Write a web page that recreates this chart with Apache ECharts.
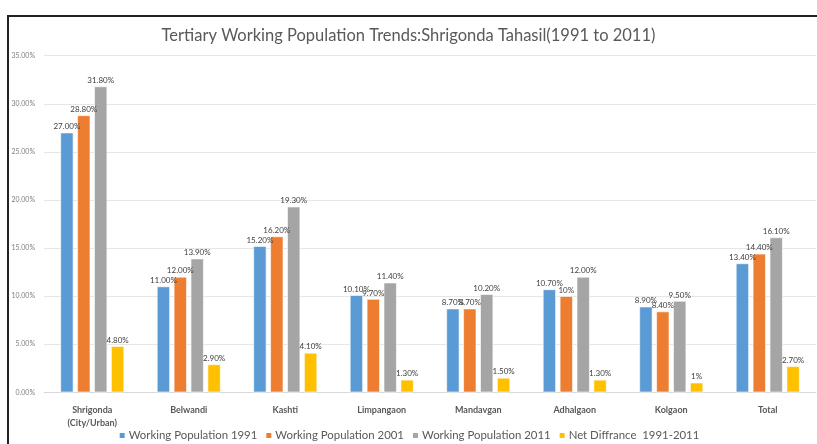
<!DOCTYPE html>
<html>
<head>
<meta charset="utf-8">
<script src="https://cdn.jsdelivr.net/npm/echarts@6/dist/echarts.min.js"></script>
<style>html,body{margin:0;padding:0;background:#fff}#c{width:817px;height:444px}</style>
</head>
<body>
<div id="c"></div>
<script>
const categories = ['Shrigonda\n(City/Urban)', 'Belwandi', 'Kashti', 'Limpangaon', 'Mandavgan', 'Adhalgaon', 'Kolgaon', 'Total'];
const seriesNames = ['Working Population 1991', 'Working Population 2001', 'Working Population 2011', 'Net Diffrance  1991-2011'];
const wp1991 = [27.0, 11.0, 15.2, 10.1, 8.7, 10.7, 8.9, 13.4];
const wp2001 = [28.8, 12.0, 16.2, 9.7, 8.7, 10.0, 8.4, 14.4];
const wp2011 = [31.8, 13.9, 19.3, 11.4, 10.2, 12.0, 9.5, 16.1];
const netDiff = [4.8, 2.9, 4.1, 1.3, 1.5, 1.3, 1.0, 2.7];
const lbl1991 = ['27.00%', '11.00%', '15.20%', '10.10%', '8.70%', '10.70%', '8.90%', '13.40%'];
const lbl2001 = ['28.80%', '12.00%', '16.20%', '9.70%', '8.70%', '10%', '8.40%', '14.40%'];
const lbl2011 = ['31.80%', '13.90%', '19.30%', '11.40%', '10.20%', '12.00%', '9.50%', '16.10%'];
const lblNet = ['4.80%', '2.90%', '4.10%', '1.30%', '1.50%', '1.30%', '1%', '2.70%'];
const yTicks = [0, 5, 10, 15, 20, 25, 30, 35];

const colors = ['#5B9BD5', '#ED7D31', '#A5A5A5', '#FFC000'];
const values = [wp1991, wp2001, wp2011, netDiff];
const labels = [lbl1991, lbl2001, lbl2011, lblNet];
const font = 'Lato, "Open Sans", sans-serif';

const chart = echarts.init(document.getElementById('c'), null, {renderer: 'canvas'});
chart.setOption({
  animation: false,
  backgroundColor: '#fff',
  color: colors,
  title: {
    text: 'Tertiary Working Population Trends:Shrigonda Tahasil(1991 to 2011)',
    left: 'center', top: 22,
    textStyle: {fontFamily: font, fontSize: 16.5, fontWeight: 'normal', color: '#595959'}
  },
  legend: {
    top: 430, left: 'center', padding: 0,
    itemWidth: 7, itemHeight: 7, itemGap: 7, icon: 'rect',
    textStyle: {fontFamily: font, fontSize: 11.4, color: '#595959', padding: [0, 0, 0, -2]},
    data: seriesNames
  },
  grid: {left: 44, right: 1, top: 55.7, bottom: 444 - 392.3, containLabel: false},
  xAxis: {
    type: 'category', data: categories,
    axisLine: {lineStyle: {color: '#D9D9D9'}},
    axisTick: {show: false},
    axisLabel: {fontFamily: font, fontSize: 9, fontWeight: 'bold', color: '#595959', margin: 11, lineHeight: 13, interval: 0}
  },
  yAxis: {
    type: 'value', min: 0, max: 35, interval: 5,
    axisLine: {show: false}, axisTick: {show: false},
    splitLine: {lineStyle: {color: '#E6E6E6'}},
    axisLabel: {fontFamily: font, fontSize: 7, color: '#808080', margin: 9,
      formatter: v => yTicks.includes(v) ? v.toFixed(2) + '%' : ''}
  },
  series: seriesNames.map((n, i) => ({
    name: n, type: 'bar', data: values[i],
    barWidth: 13, barGap: '30%',
    itemStyle: {color: colors[i], borderColor: '#fff', borderWidth: 0.6},
    label: {
      show: true, position: 'top', distance: 2,
      fontFamily: font, fontSize: 8, color: '#404040',
      formatter: p => labels[i][p.dataIndex]
    }
  })),
  graphic: [{
    type: 'rect', silent: true, z: 100,
    shape: {x: 8, y: 16, width: 900, height: 500},
    style: {fill: 'none', stroke: '#222', lineWidth: 2}
  }]
});
</script>
</body>
</html>
